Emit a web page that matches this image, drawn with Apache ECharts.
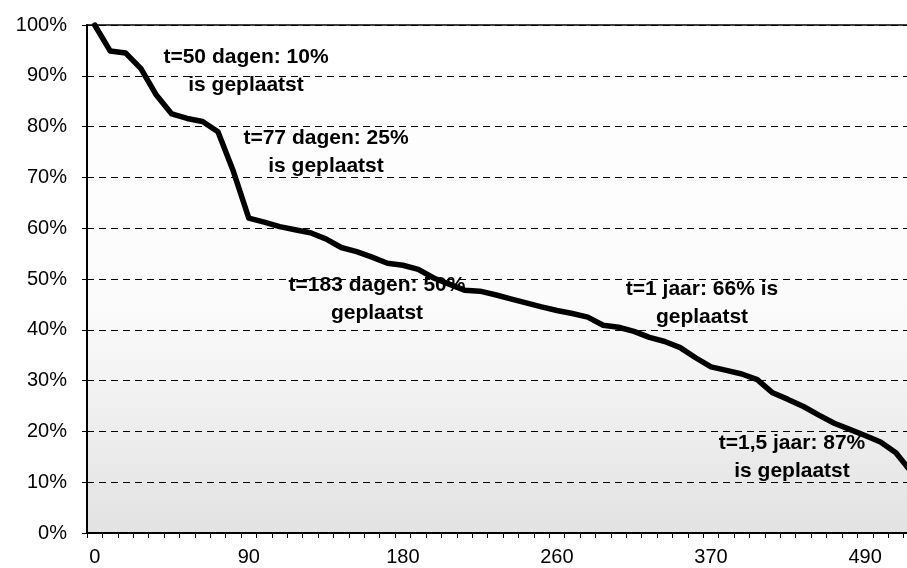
<!DOCTYPE html>
<html>
<head>
<meta charset="utf-8">
<script src="https://cdn.jsdelivr.net/npm/echarts@6/dist/echarts.min.js"></script>
<style>
html,body{margin:0;padding:0;background:#fff;}
#chart{width:907px;height:568px;}
</style>
</head>
<body>
<div id="chart"></div>
<script>
// Share of records not yet placed (%), one value per category on the x axis
const remaining = [
  100, 94.9, 94.5, 91.4, 86.2, 82.5, 81.6, 81.0, 79.0, 71.2,
  62.0, 61.2, 60.3, 59.7, 59.1, 57.9, 56.2, 55.4, 54.3, 53.1,
  52.7, 51.9, 50.2, 49.0, 47.8, 47.6, 46.9, 46.1, 45.3, 44.5,
  43.8, 43.2, 42.5, 40.9, 40.5, 39.7, 38.5, 37.7, 36.5, 34.5,
  32.7, 32.0, 31.3, 30.2, 27.6, 26.3, 24.9, 23.2, 21.6, 20.4,
  19.2, 17.9, 15.8, 12.0
];
// x-axis tick labels (days) and the category index they sit on
const tickIndex = [0, 10, 20, 30, 40, 50];
const tickLabels = ['0', '90', '180', '260', '370', '490'];
// y-axis ticks
const yTicks = [0, 10, 20, 30, 40, 50, 60, 70, 80, 90, 100];
// annotation texts
const notes = [
  't=50 dagen: 10%\nis geplaatst',
  't=77 dagen: 25%\nis geplaatst',
  't=183 dagen: 50%\ngeplaatst',
  't=1 jaar: 66% is\ngeplaatst',
  't=1,5 jaar: 87%\nis geplaatst'
];

const categories = remaining.map((_, i) => String(i));

const chart = echarts.init(document.getElementById('chart'), null, {renderer: 'canvas'});

const notePos = [[246, 71], [326, 152], [377, 299], [702, 303], [792, 457]];

chart.setOption({
  animation: false,
  backgroundColor: '#ffffff',
  grid: {
    left: 87, right: -12, top: 25, bottom: 35,
    outerBoundsMode: 'none',
    containLabel: false,
    show: true,
    borderColor: '#000', borderWidth: 1.5,
    backgroundColor: new echarts.graphic.LinearGradient(0, 0, 0, 1, [
      {offset: 0, color: '#ffffff'},
      {offset: 0.55, color: '#fbfbfb'},
      {offset: 1, color: '#e2e2e2'}
    ])
  },
  xAxis: {
    type: 'category',
    data: categories,
    boundaryGap: true,
    axisLine: {lineStyle: {color: '#000', width: 2}},
    axisTick: {show: true, interval: 0, length: 5, lineStyle: {color: '#000', width: 1}},
    axisLabel: {
      interval: 0,
      margin: 14,
      color: '#000',
      fontFamily: 'Liberation Sans, Arial, sans-serif',
      fontSize: 20,
      hideOverlap: false,
      formatter: function (v, idx) {
        const k = tickIndex.indexOf(idx);
        return k >= 0 ? tickLabels[k] : '';
      }
    },
    splitLine: {show: false}
  },
  yAxis: {
    type: 'value',
    min: yTicks[0],
    max: yTicks[yTicks.length - 1],
    interval: 10,
    axisLine: {show: true, lineStyle: {color: '#000', width: 2}},
    axisTick: {show: true, length: 5, lineStyle: {color: '#000', width: 1}},
    axisLabel: {
      margin: 20,
      color: '#000',
      fontFamily: 'Liberation Sans, Arial, sans-serif',
      fontSize: 20,
      formatter: '{value}%'
    },
    splitLine: {show: true, lineStyle: {color: '#000', width: 1, type: [7, 5]}}
  },
  series: [{
    type: 'line',
    data: remaining,
    showSymbol: false,
    symbol: 'none',
    smooth: false,
    clip: true,
    lineStyle: {color: '#000', width: 5.5, join: 'round', cap: 'round'},
    z: 5
  }],
  graphic: notes.map((t, i) => ({
    type: 'text',
    x: notePos[i][0],
    y: notePos[i][1],
    z: 1,
    style: {
      text: t,
      fill: '#000',
      font: 'bold 21px "Liberation Sans", Arial, sans-serif',
      textAlign: 'center',
      textVerticalAlign: 'middle',
      lineHeight: 28
    }
  }))
});
</script>
</body>
</html>
